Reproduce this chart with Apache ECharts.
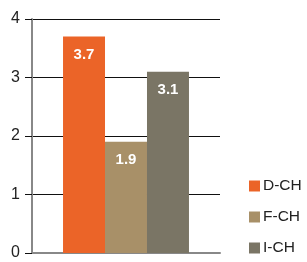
<!DOCTYPE html>
<html><head><meta charset="utf-8">
<script src="https://cdn.jsdelivr.net/npm/echarts@6/dist/echarts.min.js"></script>
<style>html,body{margin:0;padding:0;background:#fff}#c{width:307px;height:262px}</style>
</head><body><div id="c"></div>
<script>
const categories = [''];
const seriesNames = ['D-CH', 'F-CH', 'I-CH'];
const seriesValues = [[3.7], [1.9], [3.1]];
const yTicks = [0, 1, 2, 3, 4];
const colors = ['#EB6428', '#A89068', '#7A7565'];

const chart = echarts.init(document.getElementById('c'), null, {renderer: 'canvas'});
chart.setOption({
  animation: false,
  textStyle: {fontFamily: 'Liberation Sans, Arial, sans-serif'},
  grid: {left: 32, right: 87, top: 19, bottom: 9},
  legend: {
    orient: 'vertical', left: 244, top: 173,
    itemWidth: 11, itemHeight: 11, itemGap: 15,
    icon: 'rect',
    textStyle: {fontSize: 15.5, color: '#222', padding: [0, 0, 0, -2]},
    data: seriesNames
  },
  xAxis: {
    type: 'category', data: categories,
    axisLine: {lineStyle: {color: '#888', width: 2}},
    axisTick: {show: false}, axisLabel: {show: false}
  },
  yAxis: {
    type: 'value', min: yTicks[0], max: yTicks[yTicks.length - 1], interval: 1,
    axisLine: {show: true, lineStyle: {color: '#888', width: 2}},
    axisTick: {show: true, length: 7, lineStyle: {color: '#111', width: 1}},
    axisLabel: {fontSize: 16, color: '#222', margin: 12},
    splitLine: {lineStyle: {color: '#111', width: 1}}
  },
  series: seriesNames.map((n, i) => ({
    name: n, type: 'bar', data: seriesValues[i],
    barGap: '0%', barCategoryGap: '33%',
    itemStyle: {color: colors[i]},
    label: {show: true, position: 'insideTop', distance: 11, color: '#fff', fontWeight: 'bold', fontSize: 15}
  }))
});
</script></body></html>
